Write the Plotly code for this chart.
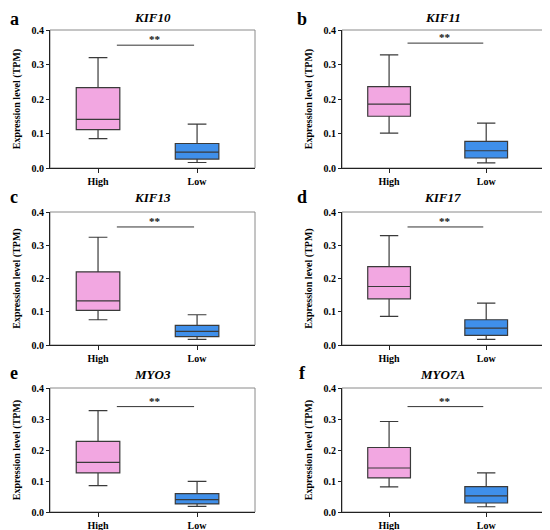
import plotly.graph_objects as go

# Data (expression level, TPM)
GENES = ["KIF10", "KIF11", "KIF13", "KIF17", "MYO3", "MYO7A"]
LETTERS = ["a", "b", "c", "d", "e", "f"]
GROUPS = ["High", "Low"]

HIGH_LOWER = [0.085, 0.101, 0.076, 0.086, 0.085, 0.081]
HIGH_Q1 = [0.111, 0.150, 0.104, 0.139, 0.126, 0.110]
HIGH_MEDIAN = [0.141, 0.185, 0.133, 0.176, 0.160, 0.142]
HIGH_Q3 = [0.233, 0.236, 0.220, 0.236, 0.228, 0.208]
HIGH_UPPER = [0.320, 0.328, 0.324, 0.329, 0.327, 0.292]

LOW_LOWER = [0.016, 0.015, 0.017, 0.017, 0.018, 0.017]
LOW_Q1 = [0.026, 0.029, 0.025, 0.029, 0.026, 0.029]
LOW_MEDIAN = [0.046, 0.050, 0.041, 0.051, 0.040, 0.052]
LOW_Q3 = [0.071, 0.077, 0.059, 0.076, 0.059, 0.082]
LOW_UPPER = [0.127, 0.130, 0.091, 0.126, 0.099, 0.126]

SIG_Y = [0.356, 0.362, 0.355, 0.355, 0.340, 0.340]
SIG_X = [0.19, 0.97]
SIG_LABEL = "**"

Y_TICKS = [0.0, 0.1, 0.2, 0.3, 0.4]

PINK = "#F2A7E1"
BLUE = "#3F8FEA"
EDGE = "#3a3a3a"
FONT = "Liberation Serif, Times New Roman, serif"

# the page body adds an 8px margin, so the figure is drawn 8px in from the corner
OFF = 8
W, H = 550 - OFF, 530 - OFF
# plot-area boxes in window pixels (left, right, top, bottom)
COLS = [(50, 255), (342, 543)]
ROWS = [(30, 168), (212, 345), (388, 512)]
TITLE_Y = [17, 198, 374]
LETTER_Y = [19, 197, 373]
LETTER_X = [14, 302]


def px(v):
    return (v - OFF) / W


def py(v):
    return 1 - (v - OFF) / H


fig = go.Figure()
layout = {}

for i, gene in enumerate(GENES):
    r, c = divmod(i, 2)
    n = "" if i == 0 else str(i + 1)
    xa, ya = "x" + n, "y" + n
    left, right = COLS[c]
    top, bottom = ROWS[r]

    fig.add_trace(go.Box(
        x=[0], q1=[HIGH_Q1[i]], median=[HIGH_MEDIAN[i]], q3=[HIGH_Q3[i]],
        lowerfence=[HIGH_LOWER[i]], upperfence=[HIGH_UPPER[i]],
        width=0.44, whiskerwidth=0.43, fillcolor=PINK,
        line=dict(color=EDGE, width=1.2), boxpoints=False,
        hoverinfo="skip", xaxis=xa, yaxis=ya, name=GROUPS[0],
    ))
    fig.add_trace(go.Box(
        x=[1], q1=[LOW_Q1[i]], median=[LOW_MEDIAN[i]], q3=[LOW_Q3[i]],
        lowerfence=[LOW_LOWER[i]], upperfence=[LOW_UPPER[i]],
        width=0.44, whiskerwidth=0.43, fillcolor=BLUE,
        line=dict(color=EDGE, width=1.2), boxpoints=False,
        hoverinfo="skip", xaxis=xa, yaxis=ya, name=GROUPS[1],
    ))
    # significance bar
    fig.add_trace(go.Scatter(
        x=SIG_X, y=[SIG_Y[i], SIG_Y[i]], mode="lines",
        line=dict(color="#333333", width=1), hoverinfo="skip",
        xaxis=xa, yaxis=ya,
    ))
    fig.add_annotation(
        x=sum(SIG_X) / 2, y=SIG_Y[i], xref=xa, yref=ya, text=f"<b>{SIG_LABEL}</b>",
        showarrow=False, xanchor="center", yanchor="bottom", yshift=-2,
        font=dict(family=FONT, size=11, color="#111111"),
    )

    layout["xaxis" + n] = dict(
        domain=[px(left), px(right)], anchor=ya, range=[-0.485, 1.585],
        tickvals=[0, 1], ticktext=GROUPS, showgrid=False, zeroline=False,
        showline=True, linecolor="#222222", linewidth=1, automargin=False,
        ticks="outside", ticklen=4, tickcolor="#222222",
        tickfont=dict(family=FONT, size=10, color="black", weight="bold"),
    )
    layout["yaxis" + n] = dict(
        domain=[py(bottom), py(top)], anchor=xa, range=[0, 0.4],
        tickvals=Y_TICKS, tickformat=".1f", showgrid=False, zeroline=False,
        showline=True, linecolor="#222222", linewidth=1, automargin=False,
        ticks="outside", ticklen=3, tickcolor="#222222",
        tickfont=dict(family=FONT, size=10, color="black", weight="bold"),
        title=dict(text="Expression level (TPM)", standoff=9,
                   font=dict(family=FONT, size=10, color="black", weight="bold")),
    )
    # grey frame on top/right
    fig.add_shape(type="rect", xref=xa + " domain", yref=ya + " domain",
                  x0=0, x1=1, y0=0, y1=1, line=dict(color="#8a8a8a", width=1),
                  layer="below")
    # gene title
    fig.add_annotation(
        x=px((left + right) / 2), y=py(TITLE_Y[r]), xref="paper", yref="paper",
        xanchor="center", yanchor="middle",
        text=f"<b><i>{gene}</i></b>", showarrow=False,
        font=dict(family=FONT, size=13, color="black"),
    )
    # panel letter
    fig.add_annotation(
        x=px(LETTER_X[c]), y=py(LETTER_Y[r]), xref="paper", yref="paper",
        xanchor="center", yanchor="middle",
        text=f"<b>{LETTERS[i]}</b>", showarrow=False,
        font=dict(family=FONT, size=18, color="black"),
    )

fig.update_layout(
    width=W, height=H, margin=dict(l=0, r=0, t=0, b=0),
    paper_bgcolor="white", plot_bgcolor="white", showlegend=False,
    **layout,
)

fig.write_html("out.html")
